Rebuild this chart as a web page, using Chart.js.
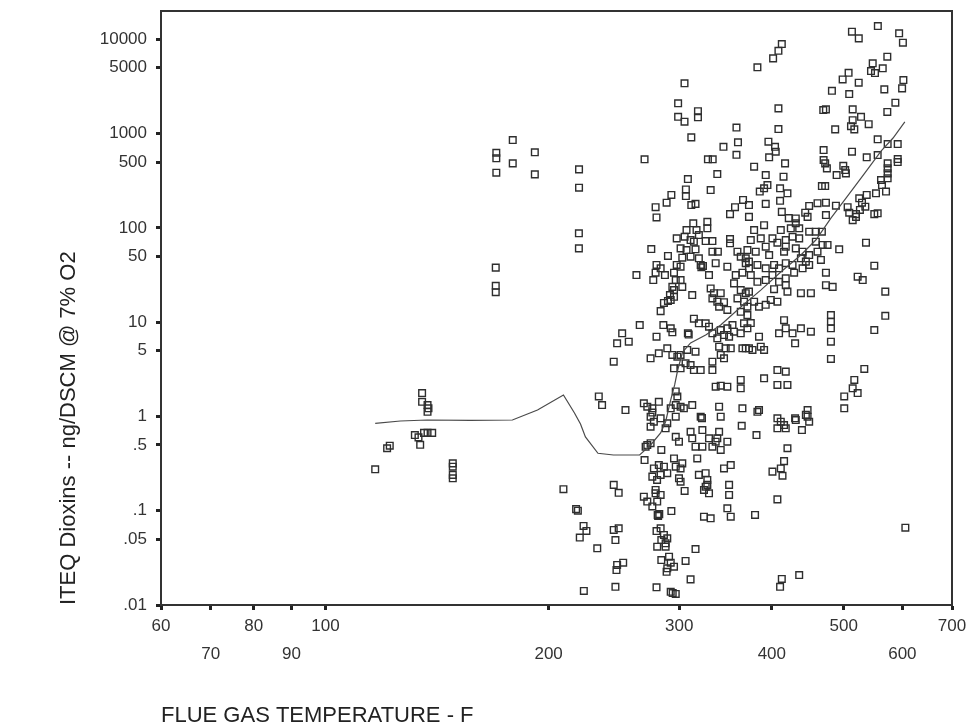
<!DOCTYPE html>
<html><head><meta charset="utf-8">
<script src="https://cdn.jsdelivr.net/npm/chart.js@4/dist/chart.umd.min.js"></script>
<style>html,body{margin:0;padding:0;background:#fff;}#wrap{width:968px;height:727px;}</style>
</head><body>
<div id="wrap"><canvas id="c" width="968" height="727"></canvas></div>
<script>
// Flue gas temperature (F) of each measurement
const tempF = [
116.7,121.1,122.1,135,135,137.3,137.7,137.3,132,133.5,134.2,135.8,137.3,139.3,148.5,148.5,148.5,148.5,
209.4,217.8,219,222.9,224.9,220.3,170,170,178.9,178.9,170,191.6,191.6,219.8,219.8,219.7,219.7,169.7,169.7,169.7,
305,299,299,305,318,318,311.5,269.4,328,332.9,344.2,358.4,360.1,358.4,337.7,308.2,306.3,306.3,330.8,292.8,288.5,278.8,279.6,311.5,315.6,365.8,356.8,351.3,
556,513,524,594,601,412.6,408.3,401.6,382.5,572.6,547.2,564.5,544.3,551.1,507.7,498.4,523.9,601.9,567.3,599.5,482.1,508.7,587.1,572.6,408.3,469.3,473.2,514.2,527.7,514.2,511.5,516.8,540.4,487,408.3,
395.8,404,404.9,396.7,378.6,416.8,469.8,469.8,472.1,474.6,513.1,499.4,502.4,489.2,503.5,555.7,573.2,591.4,555.7,537.1,573.2,573.2,573.2,573.2,591.4,591.4,561.5,563.2,570.3,552.8,
392.5,414.8,394.6,390.5,385.3,410.4,419.9,467.3,472.1,372.6,392.5,410.4,461,473.2,449.2,488.1,524.8,529.3,534.8,525.9,506.2,508.7,537.1,549.9,555.7,412.6,443.7,447,430.9,473.2,372.6,519.5,
313.4,306.9,316.6,327.4,327.4,297.7,305.1,310.8,318.9,314,325.7,332.6,351.3,351.3,275.1,289.7,301.3,306.9,315.6,302.9,310.8,318.9,332.6,338.3,320.7,321.4,323,336,329.1,348.4,
279.6,283.2,278.8,287,297.7,301.3,295.2,262.7,276.8,296.8,301.3,293.7,295.2,302.9,312.4,291.5,289.7,286.1,283.2,292.2,295.2,330.8,334.2,341.3,332.6,337.7,344.8,339.6,348.4,
359.5,363.2,368.9,368.9,357.6,365.1,372.6,355.7,363.2,368.9,359.5,366.9,370.8,363.2,265.4,285.6,292.2,293.7,279.6,251.3,247.4,256.5,244.8,314,318.9,325.7,329.1,308.2,309,
332.6,341.3,348.4,354,337.7,344.8,350.3,355.7,363.2,370.8,366.9,339.6,346.6,352.1,365.1,368.9,341.3,344.8,332.6,274.5,281.6,289.1,293.7,298.3,301.3,307.6,315.6,295.2,301.3,
306,310.8,314,320.7,332.6,336,341.3,348.4,363.2,363.2,233.7,236.1,253.9,268.8,271.7,276,281.6,276,296.8,298.3,292.2,296.8,301.3,304.4,312.4,320.7,339.6,341.3,365.1,
421.6,514.2,519.5,390.5,378.6,411.3,424.3,430.9,435.5,449.2,458.6,467.3,374.7,386.5,400.8,407,417.7,426.6,435.5,458.6,468.4,475.6,493.1,535.9,549.9,
370.8,380.5,392.5,396.7,415.5,417.7,430.9,440.1,437.8,449.2,461,465.9,444.6,372.6,382.5,392.5,402.8,409.1,417.7,426.6,440.1,449.2,428.7,417.7,473.2,473.2,483.2,522.2,530.5,
374.7,382.5,392.5,400.8,409.1,417.7,419.9,402.8,437.8,451.6,569,372.6,378.6,384.4,392.5,398.7,407,370.8,374.7,480.6,480.6,480.6,569,549.9,
415.5,409.1,417.7,426.6,437.8,451.6,430,480.6,384.4,372.6,376.7,386.5,390.5,480.6,533.1,407,417.7,390.5,407,419.9,516.8,514.2,522.2,500.9,500.9,384.4,382.5,447,444.6,430,
274.5,277.3,283.2,274.5,289.1,287.6,296.8,322,364.3,296.8,299.8,310.8,312.4,322.4,315.6,322.4,329.1,336,339.6,341.3,348.4,337.7,332.6,271.7,274.5,270.3,283.8,269.4,317.3,
277.3,281.6,286.1,289.1,283.2,276,280.1,295.2,296.8,301.3,302.9,299.8,301.3,318.9,325.7,327.4,327.4,325.7,329.1,324,344.8,352.1,350.3,350.3,348.4,352.1,
244.8,248.6,305.1,268.8,271.7,278.8,280.2,276,278.8,283.2,280.6,282,281,292.8,324,330.8,244.8,248.6,246.1,232.6,279.6,283.2,286.1,289.1,283.8,287.6,280.2,287.6,315.6,
283.8,290.7,292.2,295.2,289.1,288.5,306,247.4,252.1,246.9,310.8,246.1,223.1,279.6,292.2,296.8,294,
407,411.3,415.5,417.7,407,430.9,447,449.2,439.2,381.4,419.9,415.5,411.3,400.8,413.5,407,379.7,605.6,435.5,412.6,410.4
];
// ITEQ dioxins (ng/DSCM @ 7% O2) of each measurement
const iteq = [
0.275,0.46,0.49,1.77,1.43,1.32,1.22,1.12,0.635,0.60,0.50,0.67,0.67,0.67,0.318,0.293,0.24,0.221,
0.169,0.104,0.100,0.069,0.061,0.052,627,547,855,484,385,634,370,418,267,87.6,60.7,37.9,24.3,20.8,
3420,2100,1510,1340,1730,1490,913,534,534,534,726,1160,809,597,373,330,256,218,252,224,185,166,129,175,180,198,166,140,
13850,12050,10250,11590,9210,8930,7570,6290,5050,6550,5570,4930,4610,4390,4420,3760,3470,3700,2950,3020,2850,2630,2130,1700,1855,1780,1810,1810,1510,1390,1200,1110,1260,1110,1120,
821,726,643,561,446,484,670,525,484,428,643,456,411,364,379,870,776,776,593,561,484,428,379,336,538,500,322,285,243,233,
364,349,285,263,243,263,233,278,278,175,180,194,183,185,171,172,206,185,168,155,166,145,224,140,143,148,145,131,126,137,131,140,
112,95,95,116,99,77.5,80.6,74.4,84.1,71.4,72.6,72.6,76.2,68.7,59.7,50.4,60.7,58.3,59.3,48.3,49.5,47.6,56,56,40.5,38.2,39.5,42.2,31.6,38.8,
40.5,37.3,33.5,31.6,40.5,38.8,33.5,31.6,28,28,28,23.7,21.9,23.7,19.4,19.4,16.8,16.0,13.1,17.2,18.6,22.8,20.3,20.3,17.9,16.5,16.3,14.6,13.5,
56,49.5,47.6,42.2,31.6,33.5,37.3,25.8,21.9,20.3,17.9,16.5,14.6,12.9,9.33,9.33,8.61,7.81,7.01,7.62,5.97,6.21,3.81,10.9,9.73,9.73,8.95,7.62,7.4,
7.62,8.26,8.61,9.33,6.74,7.31,7.01,7.93,7.62,8.61,9.73,5.5,5.28,5.28,5.28,5.28,4.49,4.14,3.81,4.14,4.68,5.28,4.49,4.3,4.49,5.07,4.86,3.24,3.24,
3.66,3.51,3.11,3.11,3.11,2.07,2.12,2.07,2.44,1.99,1.63,1.32,1.17,1.38,1.27,1.22,1.43,1.1,1.84,1.63,1.22,1.32,1.27,1.22,1.32,0.994,1.27,0.994,1.22,
127,121,131,107,95,95,99,112,99,91.1,91.1,91.1,74.4,77.5,77.5,69.7,74.4,80.6,77.5,71.4,65.9,65.9,59.3,69.7,39.7,
58.3,56,63.2,51.6,56,63.2,60.7,56,47.6,51.6,56,45.7,43.9,43.9,40.5,37.3,40.5,37.3,42.2,40.5,37.3,40.5,33.5,29.2,33.5,24.7,23.7,30.4,28,
31.6,26.8,28,31.6,26.8,24.7,21.1,22.4,20.3,20.3,21.1,21.1,16.5,14.6,15.3,17.2,16.5,11.9,9.8,11.9,10.1,8.61,11.7,8.26,
10.5,7.62,8.61,7.62,8.61,7.93,5.97,6.21,7.01,5.28,5.07,5.5,5.07,4.07,3.19,3.11,2.99,2.54,2.16,2.16,2.44,1.99,1.77,1.63,1.22,1.17,1.12,1.17,1.04,0.955,
0.994,0.88,0.955,0.778,0.846,0.748,0.994,0.96,0.797,0.609,0.54,0.688,0.586,0.718,0.478,0.478,0.586,0.54,0.688,0.441,0.54,0.586,0.478,0.498,0.52,0.478,0.441,0.345,0.359,
0.281,0.305,0.293,0.25,0.24,0.23,0.212,0.359,0.293,0.281,0.318,0.221,0.203,0.24,0.25,0.212,0.188,0.18,0.153,0.166,0.281,0.305,0.188,0.147,0.106,0.0865,
0.188,0.155,0.162,0.141,0.125,0.153,0.125,0.111,0.166,0.147,0.09,0.092,0.088,0.0993,0.0865,0.0832,0.0625,0.0651,0.0489,0.0399,0.0609,0.0651,0.0553,0.0509,0.0489,0.0451,0.0415,0.0415,0.0392,
0.03,0.0325,0.0281,0.0255,0.0245,0.0225,0.0293,0.0266,0.0281,0.0235,0.0187,0.0156,0.0141,0.0154,0.0138,0.0131,0.0134,
0.955,0.88,0.811,0.748,0.748,0.917,0.994,0.88,0.718,0.635,0.46,0.336,0.281,0.26,0.235,0.132,0.0902,0.0661,0.0208,0.0189,0.0156
];
// Smoothed fit line
const curveTemp = [116.7,126.2,137.2,156.8,178.7,193.2,209.4,216.7,220.8,224.2,233.1,244.6,265.3,274.5,283.2,287.6,292.2,295.8,298.6,303.2,310.8,325.7,341.3,363.2,386.5,411.3,437.8,458.6,480.6,505.1,532.6,561.5,582.9,604.6];
const curveIteq = [0.846,0.895,0.917,0.91,0.917,1.17,1.69,1.09,0.832,0.606,0.407,0.39,0.39,0.498,0.668,0.88,1.5,2.16,3.11,4.83,6.02,7.31,9.34,14.5,21.9,34.1,51.6,74.4,127,213,373,654,899,1330];

const xTickValues = [60,70,80,90,100,200,300,400,500,600,700];
const yTickValues = [0.01,0.05,0.1,0.5,1,5,10,50,100,500,1000,5000,10000];
const yTickLabels = ['.01','.05','.1','.5','1','5','10','50','100','500','1000','5000','10000'];
const xTitle = 'FLUE GAS TEMPERATURE - F';
const yTitle = 'ITEQ Dioxins -- ng/DSCM @ 7% O2';

const FONT = "'Liberation Sans', Arial, sans-serif";
const INK = '#333';

const framePlugin = {
  id: 'frame',
  beforeDraw(chart) {
    const ctx = chart.ctx;
    ctx.save(); ctx.fillStyle = '#fff'; ctx.fillRect(0, 0, chart.width, chart.height); ctx.restore();
  },
  afterDraw(chart) {
    const {ctx, chartArea: a} = chart;
    ctx.save();
    ctx.strokeStyle = INK; ctx.lineWidth = 2;
    ctx.beginPath();
    ctx.moveTo(a.left, a.top); ctx.lineTo(a.right, a.top); ctx.lineTo(a.right, a.bottom);
    ctx.stroke();
    ctx.restore();
  }
};

new Chart(document.getElementById('c'), {
  type: 'scatter',
  data: {
    datasets: [
      {
        label: 'fit',
        data: curveTemp.map((t, i) => ({x: t, y: curveIteq[i]})),
        showLine: true,
        borderColor: '#4a4a4a',
        borderWidth: 1.2,
        pointRadius: 0,
        pointHoverRadius: 0,
        tension: 0,
        fill: false
      },
      {
        label: 'ITEQ',
        data: tempF.map((t, i) => ({x: t, y: iteq[i]})),
        pointStyle: 'rect',
        pointRadius: 4.7,
        pointHoverRadius: 4.7,
        borderColor: '#2e2e2e',
        borderWidth: 1.4,
        backgroundColor: 'rgba(0,0,0,0)'
      }
    ]
  },
  options: {
    responsive: false,
    devicePixelRatio: 1,
    animation: false,
    events: [],
    layout: {padding: {top: 11, right: 16, bottom: 0, left: 0}},
    plugins: {legend: {display: false}, tooltip: {enabled: false}},
    scales: {
      x: {
        type: 'logarithmic',
        position: 'bottom',
        min: 60, max: 700,
        afterBuildTicks: s => { s.ticks = xTickValues.map(v => ({value: v})); },
        afterFit: s => { s.height = 122; s.paddingLeft = 0; s.paddingRight = 0; },
        grid: {display: true, drawOnChartArea: false, drawTicks: true, tickLength: 5, tickWidth: 3, tickColor: '#222'},
        border: {display: true, color: INK, width: 2},
        ticks: {
          autoSkip: false, maxRotation: 0, minRotation: 0, padding: 2,
          color: INK,
          font: {family: FONT, size: 17, lineHeight: 1.65},
          callback: (v, i) => (i % 2 === 0 ? [String(xTickValues[i]), ''] : ['', String(xTickValues[i])])
        },
        title: {
          display: true, text: xTitle, align: 'start', color: '#222',
          font: {family: FONT, size: 22, lineHeight: 1},
          padding: {top: 0, bottom: 0}
        }
      },
      y: {
        type: 'logarithmic',
        position: 'left',
        min: 0.01, max: 20000,
        afterBuildTicks: s => { s.ticks = yTickValues.map(v => ({value: v})); },
        afterFit: s => { s.width = 161; s.paddingTop = 0; s.paddingBottom = 0; },
        grid: {display: true, drawOnChartArea: false, drawTicks: true, tickLength: 5, tickWidth: 3, tickColor: '#222'},
        border: {display: true, color: INK, width: 2},
        ticks: {
          autoSkip: false, padding: 9,
          color: INK,
          font: {family: FONT, size: 17},
          callback: (v, i) => yTickLabels[i]
        },
        title: {
          display: true, text: yTitle, align: 'start', color: '#222',
          font: {family: FONT, size: 22, lineHeight: 1},
          padding: {top: 58, bottom: 0}
        }
      }
    }
  },
  plugins: [framePlugin]
});
</script>
</body></html>
